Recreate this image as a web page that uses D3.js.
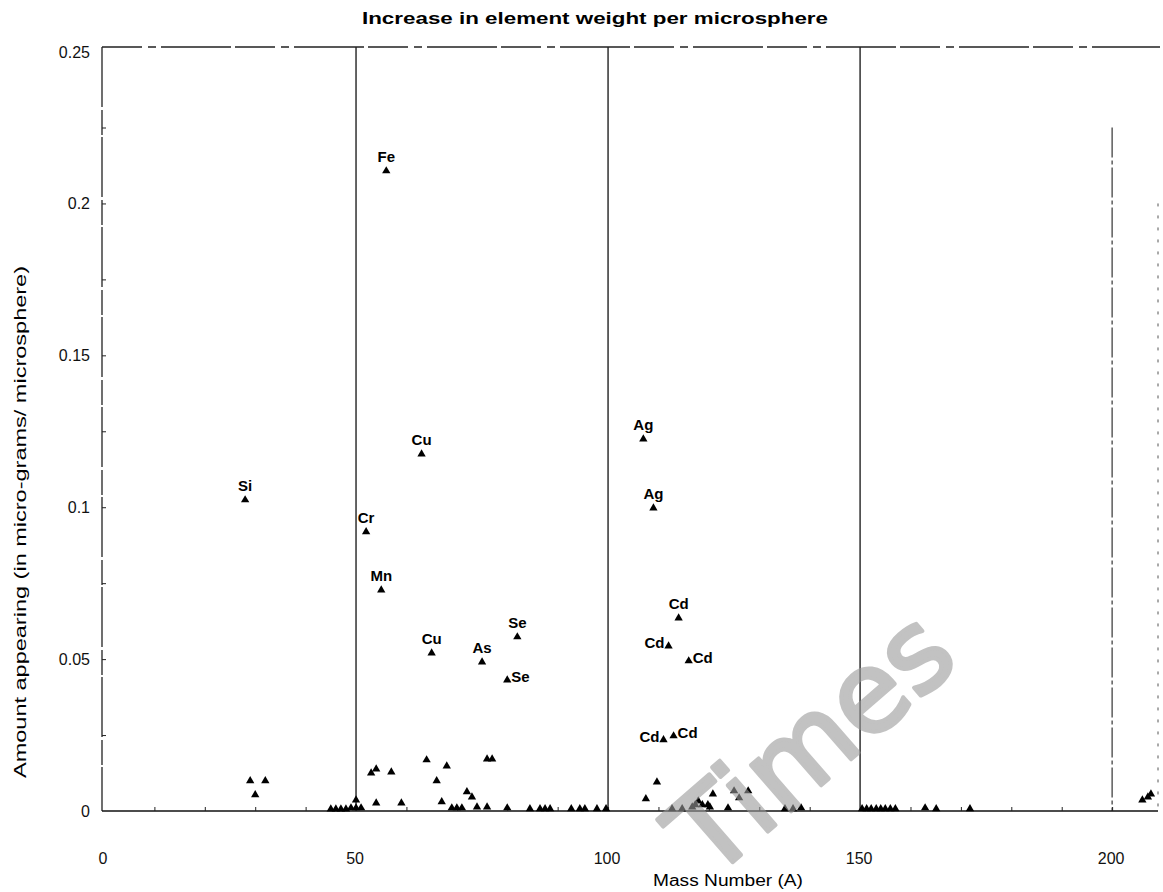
<!DOCTYPE html>
<html>
<head>
<meta charset="utf-8">
<script src="https://cdn.jsdelivr.net/npm/d3@7"></script>
<style>
  body{margin:0;background:#fff;}
  svg{display:block;font-family:"Liberation Sans",Arial,sans-serif;}
</style>
</head>
<body>
<div id="chart"></div>
<script>
// labelled points (element, mass number, amount)
var labelNames = ["Si","Fe","Cu","Cr","Mn","Cu","As","Se","Se","Ag","Ag","Cd","Cd","Cd","Cd","Cd"];
var labelMass  = [28, 56, 63, 52, 55, 65, 75, 82, 80, 107, 109, 114, 112, 116, 111, 113];
var labelAmt   = [0.1024,0.2107,0.1175,0.0919,0.0727,0.0520,0.0490,0.0573,0.0431,0.1224,0.0997,0.0635,0.0543,0.0494,0.0234,0.0247];
// where the label sits next to its marker
var labelSide  = ["top","top","top","top","top","top","top","top","right","top","top","top","left","right","left","right"];

// unlabelled points near the axis
var lowMass = [29,32,30,45,46,47,48,49,50,50,51,53,54,54,57,59,64,66,67,68,69,70,71,72,73,74,76,76,77,80,
               84.5,86.5,87.5,88.5,92.7,94.4,95.4,97.8,99.6,107.5,109.7,112.7,114.7,116.7,117.3,117.9,118.7,119.8,120.2,
               120.8,123.8,125,126,127.8,135.1,136.7,138.3,150.4,151.3,152.2,153.2,154.1,155,156,157,162.9,165.1,171.8,
               206,207.1,207.7];
var lowAmt  = [0.0099,0.0099,0.0053,0.0006,0.0006,0.0006,0.0006,0.0010,0.0036,0.0010,0.0010,0.0125,0.0138,0.0026,0.0128,0.0026,0.0168,0.0099,0.0030,0.0148,0.0010,0.0010,0.0010,0.0063,0.0046,0.0013,0.0013,0.0171,0.0171,0.0010,
               0.0007,0.0007,0.0007,0.0007,0.0007,0.0007,0.0007,0.0007,0.0007,0.0040,0.0095,0.0007,0.0007,0.0013,0.0020,0.0033,0.0020,0.0020,0.0013,
               0.0056,0.0010,0.0066,0.0043,0.0066,0.0007,0.0007,0.0010,0.0007,0.0007,0.0007,0.0007,0.0007,0.0007,0.0007,0.0007,0.0010,0.0007,0.0007,
               0.0036,0.0046,0.0056];

var xTicks = [0,50,100,150,200];
var yTicks = [0,0.05,0.1,0.15,0.2,0.25];
var gridX  = [50,100,150];

var W = 1163, H = 892;
var svg = d3.select("#chart").append("svg").attr("width",W).attr("height",H);

var x = d3.scaleLinear().domain([0,209.5]).range([104,1160]);
var y = d3.scaleLinear().domain([0,0.2515]).range([811,47]);

// frame
svg.append("line").attr("x1",x(0)-2).attr("x2",x(0)-2).attr("y1",y(0.2515)).attr("y2",y(0))
   .attr("stroke","#222").attr("stroke-width",1.3).attr("stroke-dasharray","60,3,25,2");
svg.append("line").attr("x1",x(0)-2).attr("x2",1160).attr("y1",y(0.2515)).attr("y2",y(0.2515))
   .attr("stroke","#222").attr("stroke-width",1.3).attr("stroke-dasharray","40,6,8,5,70,4");
svg.append("line").attr("x1",1158).attr("x2",1158).attr("y1",y(0.2)).attr("y2",y(0))
   .attr("stroke","#555").attr("stroke-width",1).attr("stroke-dasharray","3,9");

// vertical grid
svg.selectAll(".grid").data(gridX).enter().append("line")
   .attr("class","grid")
   .attr("x1",function(d){return x(d);}).attr("x2",function(d){return x(d);})
   .attr("y1",y(0.2515)).attr("y2",y(0))
   .attr("stroke","#222").attr("stroke-width",1.4);
svg.append("line").attr("x1",x(200)).attr("x2",x(200)).attr("y1",y(0.225)).attr("y2",y(0))
   .attr("stroke","#333").attr("stroke-width",1.2).attr("stroke-dasharray","30,3,4,3");

// x axis, ticks inside
var xAxis = svg.append("g").attr("transform","translate(0,"+y(0)+")")
   .call(d3.axisTop(x).tickValues(d3.range(10,210,10)).tickSize(4).tickFormat(""));
xAxis.select(".domain").attr("d","M"+(x(0)-2)+",0H1158").attr("stroke","#111").attr("stroke-width",1.3);
xAxis.selectAll(".tick line").attr("stroke","#222");

svg.selectAll(".xlab").data(xTicks).enter().append("text")
   .attr("class","xlab")
   .attr("x",function(d){return x(d)-1;}).attr("y",864)
   .attr("text-anchor","middle").attr("font-size",16).attr("fill","#111")
   .text(function(d){return d;});

// y axis, ticks inside
var yAxis = svg.append("g").attr("transform","translate("+(x(0)-2)+",0)")
   .call(d3.axisRight(y).tickValues(d3.range(0.025,0.25,0.025)).tickSize(4).tickFormat(""));
yAxis.select(".domain").remove();
yAxis.selectAll(".tick line").attr("stroke","#222");

svg.selectAll(".ylab").data(yTicks).enter().append("text")
   .attr("class","ylab")
   .attr("x",90).attr("y",function(d){return y(d)+6;})
   .attr("text-anchor","end").attr("font-size",16).attr("fill","#111")
   .text(function(d){return d;});

// points
var tri = d3.symbol().type(d3.symbolTriangle).size(30);
svg.selectAll(".low").data(lowMass).enter().append("path")
   .attr("class","low").attr("d",tri)
   .attr("transform",function(d,i){return "translate("+x(d)+","+y(lowAmt[i])+")";})
   .attr("fill","#000");

svg.selectAll(".lab").data(labelMass).enter().append("path")
   .attr("class","lab").attr("d",tri)
   .attr("transform",function(d,i){return "translate("+x(d)+","+y(labelAmt[i])+")";})
   .attr("fill","#000");

svg.selectAll(".name").data(labelNames).enter().append("text")
   .attr("class","name")
   .attr("x",function(d,i){
      var px = x(labelMass[i]);
      if(labelSide[i]=="left") return px-4;
      if(labelSide[i]=="right") return px+4;
      return px;})
   .attr("y",function(d,i){
      var py = y(labelAmt[i]);
      if(labelSide[i]=="top") return py-9;
      return py+2;})
   .attr("text-anchor",function(d,i){
      if(labelSide[i]=="left") return "end";
      if(labelSide[i]=="right") return "start";
      return "middle";})
   .attr("font-size",15).attr("font-weight","bold").attr("fill","#000")
   .text(function(d){return d;});

// titles
svg.append("text").attr("x",595).attr("y",24).attr("text-anchor","middle")
   .attr("font-size",17).attr("font-weight","bold").attr("fill","#000")
   .attr("textLength",466).attr("lengthAdjust","spacingAndGlyphs")
   .text("Increase in element weight per microsphere");
svg.append("text").attr("x",728).attr("y",886).attr("text-anchor","middle")
   .attr("font-size",16).attr("fill","#000")
   .attr("textLength",150).attr("lengthAdjust","spacingAndGlyphs")
   .text("Mass Number (A)");
svg.append("text").attr("transform","translate(26,522) rotate(-90)").attr("text-anchor","middle")
   .attr("font-size",16).attr("fill","#000")
   .attr("textLength",512).attr("lengthAdjust","spacingAndGlyphs")
   .text("Amount appearing (in micro-grams/ microsphere)");

// watermark
svg.append("text").attr("transform","translate(711,881) rotate(-41)")
   .attr("font-family","'DejaVu Sans',sans-serif")
   .attr("font-size",112).attr("fill","#9a9a9a")
   .attr("stroke","#9a9a9a").attr("stroke-width",4).attr("stroke-linejoin","round")
   .attr("opacity",0.6)
   .text("Times");
</script>
</body>
</html>
